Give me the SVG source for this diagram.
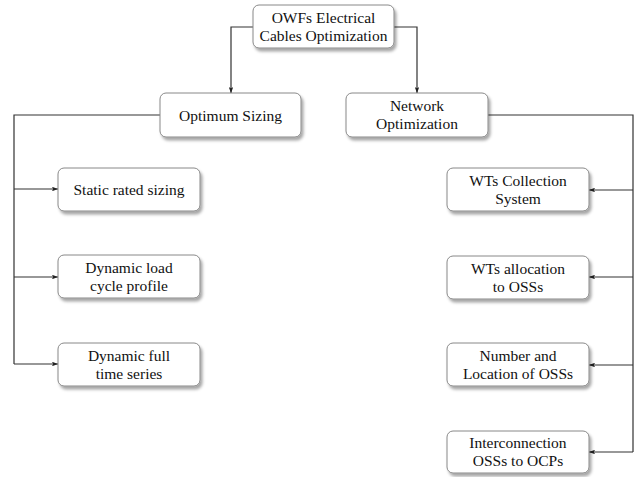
<svg xmlns="http://www.w3.org/2000/svg" width="639" height="477" viewBox="0 0 639 477">
<defs>
<filter id="sh" x="-10%" y="-10%" width="130%" height="140%">
<feDropShadow dx="2" dy="3" stdDeviation="1.5" flood-color="#000" flood-opacity="0.35"/>
</filter>
<marker id="ar" viewBox="0 0 8 6" refX="8" refY="3" markerWidth="6" markerHeight="4.5" orient="auto" markerUnits="userSpaceOnUse">
<path d="M0,0 L8,3 L0,6 L1.5,3 Z" fill="#222"/>
</marker>
</defs>
<style>
.b{fill:#fff;stroke:#888;stroke-width:1}
.t{font-family:"Liberation Serif","Times New Roman",serif;font-size:15.5px;fill:#111;text-anchor:middle}
.c{fill:none;stroke:#333;stroke-width:1.2}
</style>
<rect width="639" height="477" fill="#fff"/>
<g id="connectors">
<path class="c" d="M253,27 H231 V93" marker-end="url(#ar)"/>
<path class="c" d="M394,27 H417 V93" marker-end="url(#ar)"/>
<path class="c" d="M160,115 H14 V364"/>
<path class="c" d="M14,189 H58" marker-end="url(#ar)"/>
<path class="c" d="M14,277 H58" marker-end="url(#ar)"/>
<path class="c" d="M14,364 H58" marker-end="url(#ar)"/>
<path class="c" d="M488,115 H633 V452"/>
<path class="c" d="M633,190 H589" marker-end="url(#ar)"/>
<path class="c" d="M633,277 H589" marker-end="url(#ar)"/>
<path class="c" d="M633,365 H589" marker-end="url(#ar)"/>
<path class="c" d="M633,452 H589" marker-end="url(#ar)"/>
</g>
<g id="root"><rect class="b" x="253" y="5" width="141" height="43" rx="6" filter="url(#sh)"/>
<text class="t" x="323.5" y="22.5">OWFs Electrical</text><text class="t" x="323.5" y="40.5">Cables Optimization</text></g>
<g id="optimum"><rect class="b" x="160" y="93" width="141" height="44" rx="6" filter="url(#sh)"/>
<text class="t" x="230.5" y="120.5">Optimum Sizing</text></g>
<g id="network"><rect class="b" x="346" y="93" width="142" height="44" rx="6" filter="url(#sh)"/>
<text class="t" x="417" y="110.5">Network</text><text class="t" x="417" y="128.5">Optimization</text></g>
<g id="static"><rect class="b" x="58" y="168" width="142" height="43" rx="6" filter="url(#sh)"/>
<text class="t" x="129" y="194.5">Static rated sizing</text></g>
<g id="dynload"><rect class="b" x="58" y="255" width="142" height="43" rx="6" filter="url(#sh)"/>
<text class="t" x="129" y="272.5">Dynamic load</text><text class="t" x="129" y="290.5">cycle profile</text></g>
<g id="dynfull"><rect class="b" x="58" y="343" width="142" height="43" rx="6" filter="url(#sh)"/>
<text class="t" x="129" y="360.5">Dynamic full</text><text class="t" x="129" y="378.5">time series</text></g>
<g id="wtcoll"><rect class="b" x="447" y="168" width="142" height="43" rx="6" filter="url(#sh)"/>
<text class="t" x="518" y="185.5">WTs Collection</text><text class="t" x="518" y="203.5">System</text></g>
<g id="wtalloc"><rect class="b" x="447" y="256" width="142" height="43" rx="6" filter="url(#sh)"/>
<text class="t" x="518" y="273.5">WTs allocation</text><text class="t" x="518" y="291.5">to OSSs</text></g>
<g id="numloc"><rect class="b" x="447" y="343" width="142" height="43" rx="6" filter="url(#sh)"/>
<text class="t" x="518" y="360.5">Number and</text><text class="t" x="518" y="378.5">Location of OSSs</text></g>
<g id="interc"><rect class="b" x="447" y="431" width="142" height="42" rx="6" filter="url(#sh)"/>
<text class="t" x="518" y="447.5">Interconnection</text><text class="t" x="518" y="465.5">OSSs to OCPs</text></g>
</svg>
